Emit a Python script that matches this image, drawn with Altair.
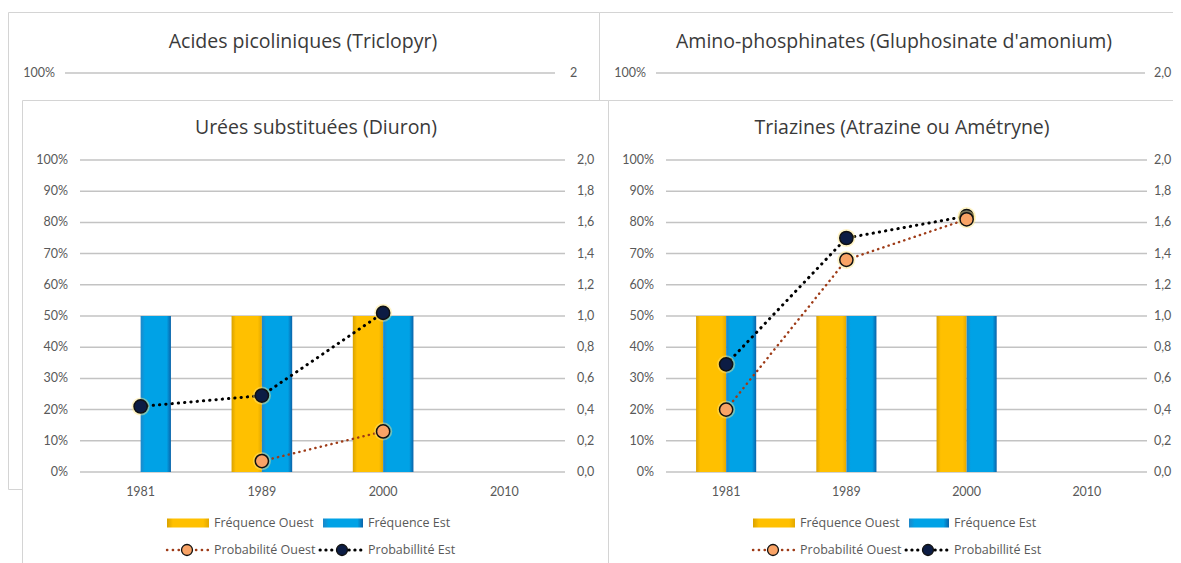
import altair as alt
import pandas as pd

# ---------------- data ----------------
years = ["1981", "1989", "2000", "2010"]
pct_ticks = [0, 10, 20, 30, 40, 50, 60, 70, 80, 90, 100]
pct_labels = ["0%", "10%", "20%", "30%", "40%", "50%", "60%", "70%", "80%", "90%", "100%"]
prob_ticks = [0.0, 0.2, 0.4, 0.6, 0.8, 1.0, 1.2, 1.4, 1.6, 1.8, 2.0]
prob_labels = ["0,0", "0,2", "0,4", "0,6", "0,8", "1,0", "1,2", "1,4", "1,6", "1,8", "2,0"]

back_titles = ["Acides picoliniques (Triclopyr)", "Amino-phosphinates (Gluphosinate d'amonium)"]
back_right_labels = ["2", "2,0"]

front_titles = ["Urées substituées (Diuron)", "Triazines (Atrazine ou Amétryne)"]

diuron_freq_ouest = [0, 50, 50, None]
diuron_freq_est = [50, 50, 50, None]
diuron_prob_ouest = [None, 0.07, 0.26, None]
diuron_prob_est = [0.42, 0.49, 1.02, None]

triaz_freq_ouest = [50, 50, 50, None]
triaz_freq_est = [50, 50, 50, None]
triaz_prob_ouest = [0.40, 1.36, 1.62, None]
triaz_prob_est = [0.69, 1.50, 1.64, None]

legend_labels = ["Fréquence Ouest", "Fréquence Est", "Probabilité Ouest", "Probabillité Est"]
series = ["Ouest", "Est"]

# ---------------- style ----------------
FONT = "Lato"
TFONT = "Open Sans"
TXT = "#595959"
TITLE_C = "#3A3A3A"
GRID = "#C3C3C3"
BORDER = "#D4D4D4"
W, H = 1165, 555


def V(v):
    return v - 8


def grad(edge_l, mid, edge_r):
    return alt.LinearGradient(
        gradient="linear", x1=0, x2=1, y1=0, y2=0,
        stops=[alt.GradientStop(color=edge_l, offset=0),
               alt.GradientStop(color=mid, offset=0.14),
               alt.GradientStop(color=mid, offset=0.86),
               alt.GradientStop(color=edge_r, offset=1)])


YEL = grad("#D9A200", "#FFC000", "#E3A800")
BLU = grad("#1E86C8", "#00A2E6", "#0B62A8")
OUEST_LINE = "#9E3B17"
OUEST_FILL = "#F9A366"
EST_LINE = "#000000"
EST_FILL = "#0C1C44"

one = pd.DataFrame({"k": [0]})


def ctext(x, y, s, size=12.5, color=TXT, align="left", font=FONT):
    return alt.Chart(one).mark_text(
        text=s, fontSize=size, color=color, align=align, baseline="middle", font=font
    ).encode(x=alt.value(V(x)), y=alt.value(V(y)))


def cbox(x1, y1, x2, y2):
    return alt.Chart(one).mark_rect(fill="white", stroke=BORDER, strokeWidth=1).encode(
        x=alt.value(V(x1) + 0.5), x2=alt.value(V(x2) + 0.5),
        y=alt.value(V(y1) + 0.5), y2=alt.value(V(y2) + 0.5))


def back_panel(ox, oy, title, rlab, gx1, rx):
    layers = [cbox(ox, oy, ox + 591, oy + 477),
              ctext(ox + 295, oy + 30, title, size=19.5, color=TITLE_C, align="center",
                    font=TFONT)]
    ys = alt.Scale(domain=[0, 100], range=[V(oy + 373), V(oy + 61)], nice=False)
    top = pd.DataFrame({"v": [pct_ticks[-1]], "lab": [pct_labels[-1]], "r": [rlab]})
    layers.append(alt.Chart(top).mark_rule(color=GRID, strokeWidth=1.5).encode(
        y=alt.Y("v:Q", scale=ys, axis=None), x=alt.value(V(ox + 57)), x2=alt.value(V(ox + gx1))))
    layers.append(alt.Chart(top).mark_text(align="right", baseline="middle", font=FONT,
                                           fontSize=12.5, color=TXT).encode(
        y=alt.Y("v:Q", scale=ys, axis=None), x=alt.value(V(ox + 47)), text="lab:N"))
    layers.append(alt.Chart(top).mark_text(align="left", baseline="middle", font=FONT,
                                           fontSize=12.5, color=TXT).encode(
        y=alt.Y("v:Q", scale=ys, axis=None), x=alt.value(V(ox + rx)), text="r:N"))
    return layers


def front_panel(ox, oy, title, fo, fe, po, pe, gx1, rx):
    px0, px1 = ox + 58, ox + gx1
    py0, py1 = oy + 372, oy + 60
    xs = alt.Scale(domain=years, range=[V(px0), V(px1)], paddingInner=0, paddingOuter=0)
    ys = alt.Scale(domain=[0, 100], range=[V(py0), V(py1)], nice=False)
    ps = alt.Scale(domain=[0, 2], range=[V(py0), V(py1)], nice=False)
    offs = alt.Scale(domain=series, paddingInner=0, paddingOuter=1)

    layers = [cbox(ox, oy, ox + 586, oy + 520),
              ctext(ox + 294, oy + 28, title, size=19.5, color=TITLE_C, align="center",
                    font=TFONT)]

    ticks = pd.DataFrame({"v": pct_ticks, "lab": pct_labels})
    pticks = pd.DataFrame({"p": prob_ticks, "lab": prob_labels})
    layers.append(alt.Chart(ticks).mark_rule(color=GRID, strokeWidth=1.5).encode(
        y=alt.Y("v:Q", scale=ys, axis=None), x=alt.value(V(px0)), x2=alt.value(V(px1))))
    layers.append(alt.Chart(ticks).mark_text(align="right", baseline="middle", font=FONT,
                                             fontSize=12.5, color=TXT).encode(
        y=alt.Y("v:Q", scale=ys, axis=None), x=alt.value(V(ox + 46)), text="lab:N"))
    layers.append(alt.Chart(pticks).mark_text(align="left", baseline="middle", font=FONT,
                                              fontSize=12.5, color=TXT).encode(
        y=alt.Y("p:Q", scale=ps, axis=None), x=alt.value(V(ox + rx)), text="lab:N"))
    layers.append(alt.Chart(pd.DataFrame({"year": years})).mark_text(
        align="center", baseline="middle", font=FONT, fontSize=12.5, color=TXT).encode(
        x=alt.X("year:N", scale=xs, axis=None, bandPosition=0.5),
        y=alt.value(V(oy + 392)), text="year:N"))

    # bars
    for name, vals, fill in [("Ouest", fo, YEL), ("Est", fe, BLU)]:
        df = pd.DataFrame({"year": years, "series": name, "val": vals}).dropna()
        layers.append(alt.Chart(df).mark_bar(color=fill).encode(
            x=alt.X("year:N", scale=xs, axis=None),
            xOffset=alt.XOffset("series:N", scale=offs),
            y=alt.Y("val:Q", scale=ys, axis=None)))

    # lines
    pdfs = {}
    for name, vals, col, sw, dash in [("Ouest", po, OUEST_LINE, 2.4, [0.3, 5.2]),
                                      ("Est", pe, EST_LINE, 3, [0.3, 6])]:
        df = pd.DataFrame({"year": years, "p": vals}).dropna()
        pdfs[name] = df
        layers.append(alt.Chart(df).mark_line(color=col, strokeWidth=sw, strokeDash=dash,
                                              strokeCap="round").encode(
            x=alt.X("year:N", scale=xs, axis=None, bandPosition=0.5),
            y=alt.Y("p:Q", scale=ps, axis=None)))
    # markers (glow + dot)
    for name, fill in [("Est", EST_FILL), ("Ouest", OUEST_FILL)]:
        df = pdfs[name]
        layers.append(alt.Chart(df).mark_circle(size=330, color="#FFE680", opacity=0.45).encode(
            x=alt.X("year:N", scale=xs, axis=None, bandPosition=0.5),
            y=alt.Y("p:Q", scale=ps, axis=None)))
        layers.append(alt.Chart(df).mark_circle(size=175, fill=fill, stroke="#111111",
                                                strokeWidth=1.5, opacity=1).encode(
            x=alt.X("year:N", scale=xs, axis=None, bandPosition=0.5),
            y=alt.Y("p:Q", scale=ps, axis=None)))

    # legend
    r1, r2 = oy + 423, oy + 450
    for sx0, sx1, tx, fill, lab in [(ox + 145, ox + 187, ox + 192, YEL, legend_labels[0]),
                                    (ox + 301, ox + 341, ox + 346, BLU, legend_labels[1])]:
        layers.append(alt.Chart(one).mark_rect(color=fill).encode(
            x=alt.value(V(sx0)), x2=alt.value(V(sx1)),
            y=alt.value(V(r1 - 4.5)), y2=alt.value(V(r1 + 4.5))))
        layers.append(ctext(tx, r1, lab, size=12.5, font=TFONT))
    for lx0, lx1, mx, tx, col, fill, sw, lab in [
            (ox + 145, ox + 188, ox + 165, ox + 192, OUEST_LINE, OUEST_FILL, 2.4, legend_labels[2]),
            (ox + 298, ox + 341, ox + 320, ox + 346, EST_LINE, EST_FILL, 3, legend_labels[3])]:
        layers.append(alt.Chart(one).mark_rule(color=col, strokeWidth=sw, strokeDash=[0.3, 5.5],
                                               strokeCap="round").encode(
            x=alt.value(V(lx0)), x2=alt.value(V(lx1)), y=alt.value(V(r2))))
        layers.append(alt.Chart(one).mark_circle(size=120, fill=fill, stroke="#111111",
                                                 strokeWidth=1.3, opacity=1).encode(
            x=alt.value(V(mx)), y=alt.value(V(r2))))
        layers.append(ctext(tx, r2, lab, size=12.5, font=TFONT))
    return layers


layers = []
layers += back_panel(8, 12, back_titles[0], back_right_labels[0], 547, 562)
layers += back_panel(599, 12, back_titles[1], back_right_labels[1], 546, 555)
layers += front_panel(22, 100, front_titles[0], diuron_freq_ouest, diuron_freq_est,
                      diuron_prob_ouest, diuron_prob_est, 543, 555)
layers += front_panel(608, 100, front_titles[1], triaz_freq_ouest, triaz_freq_est,
                      triaz_prob_ouest, triaz_prob_est, 539, 546)

chart = alt.layer(*layers).resolve_scale(
    x="independent", y="independent", xOffset="independent"
).properties(
    width=W, height=H, padding=0, background="white",
    autosize=alt.AutoSizeParams(type="none")
).configure_view(stroke=None)

chart.save("out.html", embed_options={"renderer": "svg", "actions": False})
